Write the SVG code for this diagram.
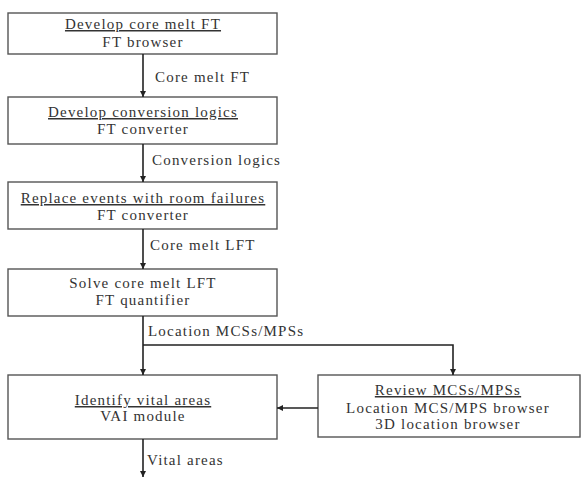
<svg xmlns="http://www.w3.org/2000/svg" width="583" height="477" viewBox="0 0 583 477">
<style>
.box{fill:#fff;stroke:#555;stroke-width:1.4}
text{font-family:"Liberation Serif","Times New Roman",serif;font-size:15px;fill:#333;letter-spacing:1.2px}
.c{text-anchor:middle}
.u{text-decoration:underline}
.ln{fill:none;stroke:#222;stroke-width:1.6}
</style>
<defs>
<marker id="ah" viewBox="0 0 10 10" refX="10" refY="5" markerWidth="6" markerHeight="6" orient="auto" markerUnits="userSpaceOnUse">
<path d="M0,0 L10,5 L0,10 z" fill="#222"/>
</marker>
</defs>
<rect width="583" height="477" fill="#fff"/>
<g id="n1"><rect class="box" x="8" y="13" width="269" height="41"/>
<text class="c u" x="143" y="29">Develop core melt FT</text>
<text class="c" x="143" y="47">FT browser</text></g>
<g id="n2"><rect class="box" x="8" y="97" width="269" height="47"/>
<text class="c u" x="143" y="117">Develop conversion logics</text>
<text class="c" x="143" y="134">FT converter</text></g>
<g id="n3"><rect class="box" x="8" y="182" width="269" height="47"/>
<text class="c u" x="143" y="203">Replace events with room failures</text>
<text class="c" x="143" y="220">FT converter</text></g>
<g id="n4"><rect class="box" x="8" y="269" width="269" height="47"/>
<text class="c" x="143" y="288">Solve core melt LFT</text>
<text class="c" x="143" y="305">FT quantifier</text></g>
<g id="n5"><rect class="box" x="8" y="375" width="269" height="64"/>
<text class="c u" x="143" y="405">Identify vital areas</text>
<text class="c" x="143" y="421">VAI module</text></g>
<g id="n6"><rect class="box" x="318" y="375" width="262" height="62"/>
<text class="c u" x="448" y="395">Review MCSs/MPSs</text>
<text class="c" x="448" y="413">Location MCS/MPS browser</text>
<text class="c" x="448" y="429">3D location browser</text></g>
<g id="connectors">
<line class="ln" x1="143" y1="54" x2="143" y2="97" marker-end="url(#ah)"/>
<line class="ln" x1="143" y1="144" x2="143" y2="182" marker-end="url(#ah)"/>
<line class="ln" x1="143" y1="229" x2="143" y2="269" marker-end="url(#ah)"/>
<line class="ln" x1="143" y1="316" x2="143" y2="375" marker-end="url(#ah)"/>
<polyline class="ln" points="143,345 453,345 453,375" marker-end="url(#ah)"/>
<line class="ln" x1="318" y1="408" x2="277" y2="408" marker-end="url(#ah)"/>
<line class="ln" x1="143" y1="439" x2="143" y2="477" marker-end="url(#ah)"/>
<text x="155" y="82">Core melt FT</text>
<text x="152" y="165">Conversion logics</text>
<text x="150" y="250">Core melt LFT</text>
<text x="148" y="336">Location MCSs/MPSs</text>
<text x="147" y="465">Vital areas</text>
</g>
</svg>
